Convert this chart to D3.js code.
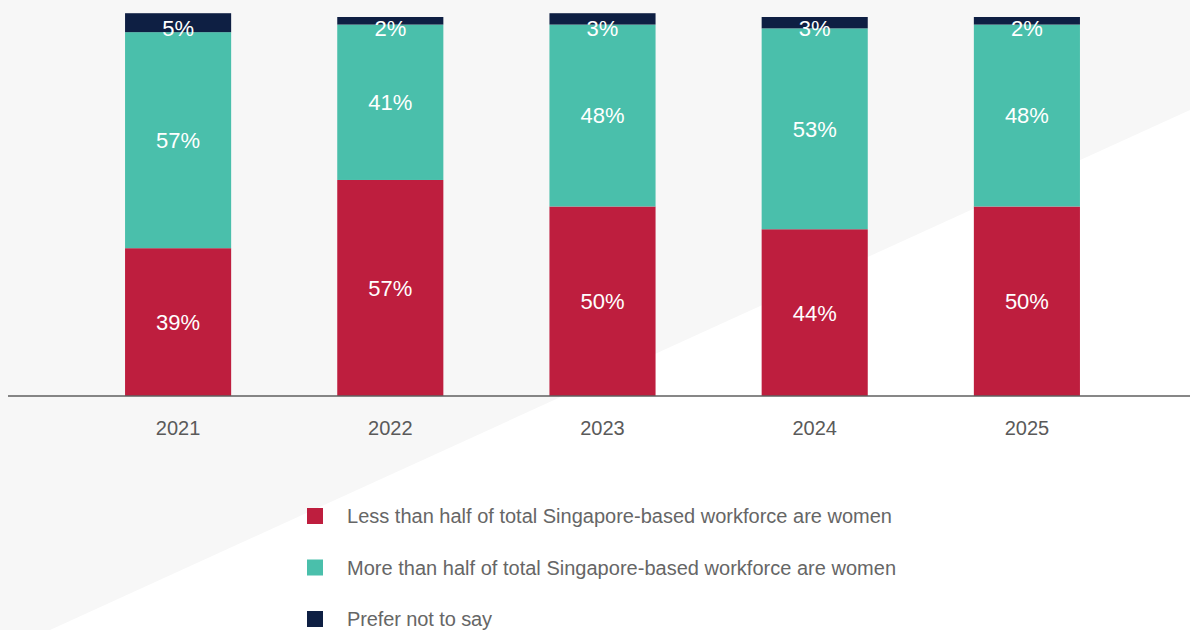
<!DOCTYPE html>
<html>
<head>
<meta charset="utf-8">
<script src="https://cdn.jsdelivr.net/npm/d3@7"></script>
<style>
  html, body { margin: 0; padding: 0; background: #ffffff; }
  svg { display: block; font-family: "Liberation Sans", Arial, sans-serif; }
</style>
</head>
<body>
<svg id="chart" width="1190" height="630"></svg>
<script>
// Survey years
const years = ["2021", "2022", "2023", "2024", "2025"];
// Share of respondents (%) per answer, one value per year
const lessThanHalf = [39, 57, 50, 44, 50];
const moreThanHalf = [57, 41, 48, 53, 48];
const preferNotToSay = [5, 2, 3, 3, 2];

const seriesKeys = ["less", "more", "prefer"];
const seriesNames = [
  "Less than half of total Singapore-based workforce are women",
  "More than half of total Singapore-based workforce are women",
  "Prefer not to say"
];
const seriesColors = ["#be1e3e", "#4abfab", "#0e1f43"];

const rows = years.map((y, i) => ({
  year: y,
  less: lessThanHalf[i],
  more: moreThanHalf[i],
  prefer: preferNotToSay[i]
}));

const W = 1190, H = 630;
const svg = d3.select("#chart");

// backdrop: pale grey field with a white wedge in the lower right
svg.append("rect").attr("width", W).attr("height", H).attr("fill", "#f7f7f7");
svg.append("path")
  .attr("d", `M50,${H} L${W},110 L${W},${H} Z`)
  .attr("fill", "#ffffff");

const x = d3.scaleBand()
  .domain(years)
  .range([72, 1133])
  .paddingInner(0.5)
  .paddingOuter(0.25);

const y = d3.scaleLinear().domain([0, 100]).range([396, 17]);

const stacked = d3.stack().keys(seriesKeys)(rows);
const color = d3.scaleOrdinal().domain(seriesKeys).range(seriesColors);

const layers = svg.append("g").selectAll("g")
  .data(stacked)
  .join("g")
  .attr("fill", d => color(d.key));

layers.selectAll("rect")
  .data(d => d)
  .join("rect")
  .attr("x", d => x(d.data.year))
  .attr("width", x.bandwidth())
  .attr("y", d => y(d[1]))
  .attr("height", d => y(d[0]) - y(d[1]));

// value labels centred in each segment (small top segments get pushed down a bit)
const labelSize = 22;
stacked.forEach(layer => {
  svg.append("g").selectAll("text")
    .data(layer)
    .join("text")
    .attr("x", d => x(d.data.year) + x.bandwidth() / 2)
    .attr("y", d => {
      const c = (y(d[0]) + y(d[1])) / 2;
      const cy = layer.key === "prefer" ? Math.max(c + 4, 28) : c;
      return cy + labelSize * 0.36;
    })
    .attr("text-anchor", "middle")
    .attr("fill", "#ffffff")
    .attr("font-size", labelSize)
    .text(d => (d[1] - d[0]) + "%");
});

// x axis
const xAxis = svg.append("g")
  .attr("transform", "translate(0,396)")
  .call(d3.axisBottom(x).tickSize(0).tickPadding(0));
xAxis.select(".domain").remove();
xAxis.selectAll("text")
  .attr("y", 39)
  .attr("dy", 0)
  .attr("font-size", 20)
  .attr("font-family", "Liberation Sans, Arial, sans-serif")
  .attr("fill", "#5a5a5a");
svg.append("line")
  .attr("x1", 8).attr("x2", W)
  .attr("y1", 396).attr("y2", 396)
  .attr("stroke", "#5f5f5f")
  .attr("stroke-width", 1.5);

// legend
const legendY = d3.scalePoint().domain(seriesKeys).range([516, 619]);
const legendWidths = [545, 549, 145];
const legend = svg.append("g").selectAll("g")
  .data(seriesKeys)
  .join("g")
  .attr("transform", k => `translate(307,${legendY(k)})`);
legend.append("rect")
  .attr("x", 0).attr("y", -8)
  .attr("width", 16).attr("height", 16)
  .attr("fill", k => color(k));
legend.append("text")
  .attr("x", 40)
  .attr("y", 7)
  .attr("font-size", 20)
  .attr("fill", "#666666")
  .text((k, i) => seriesNames[i])
  .each(function (k, i) {
    const t = d3.select(this);
    const natural = this.getComputedTextLength();
    const n = seriesNames[i].length;
    t.attr("letter-spacing", ((legendWidths[i] - natural) / n).toFixed(3) + "px");
  });
</script>
</body>
</html>
